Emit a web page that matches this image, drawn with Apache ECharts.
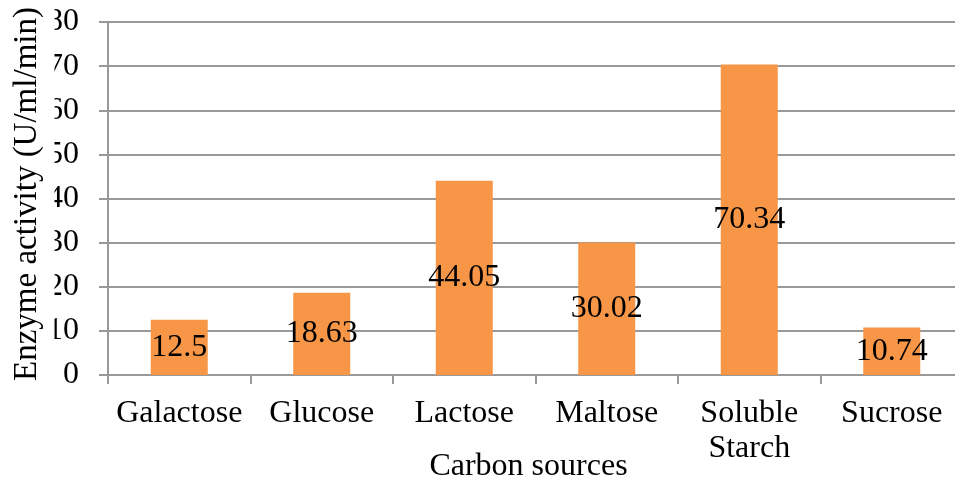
<!DOCTYPE html>
<html>
<head>
<meta charset="utf-8">
<script src="https://cdn.jsdelivr.net/npm/echarts@6/dist/echarts.min.js"></script>
<style>html,body{margin:0;padding:0;background:#fff}#c{width:955px;height:479px}</style>
</head>
<body>
<div id="c"></div>
<script>
const categories = ['Galactose', 'Glucose', 'Lactose', 'Maltose', 'Soluble\nStarch', 'Sucrose'];
const values = [12.5, 18.63, 44.05, 30.02, 70.34, 10.74];
const valueLabels = ['12.5', '18.63', '44.05', '30.02', '70.34', '10.74'];
const yTicks = [0, 10, 20, 30, 40, 50, 60, 70, 80];
const yTitle = 'Enzyme activity (U/ml/min)';
const xTitle = 'Carbon sources';

const FONT = "'Liberation Serif', 'Times New Roman', serif";
const chart = echarts.init(document.getElementById('c'), null, {renderer: 'canvas'});
chart.setOption({
  backgroundColor: '#ffffff',
  animation: false,
  grid: {left: 108, top: 22, bottom: 104, right: -8, containLabel: false, outerBoundsMode: 'none'},
  graphic: [{
    type: 'text',
    x: 27,
    y: 194,
    rotation: Math.PI / 2,
    z: 100,
    style: {
      text: yTitle,
      font: "33px 'Liberation Serif', 'Times New Roman', serif",
      fill: '#000',
      align: 'center',
      verticalAlign: 'middle',
      lineHeight: 36,
      backgroundColor: '#fff',
      padding: [0, 0, 19, 0]
    }
  }],
  xAxis: {
    type: 'category',
    data: categories,
    name: xTitle,
    nameLocation: 'middle',
    nameGap: 76,
    nameMoveOverlap: false,
    nameTextStyle: {fontFamily: FONT, fontSize: 32, color: '#000', padding: [0, 14, 0, 0]},
    axisLine: {lineStyle: {color: '#999', width: 2}},
    axisTick: {show: true, alignWithLabel: false, length: 9, lineStyle: {color: '#999', width: 2}},
    axisLabel: {fontFamily: FONT, fontSize: 32, color: '#000', margin: 21, lineHeight: 35, interval: 0}
  },
  yAxis: {
    type: 'value',
    min: yTicks[0],
    max: yTicks[yTicks.length - 1],
    interval: 10,
    axisLine: {show: true, lineStyle: {color: '#999', width: 2}},
    axisTick: {show: true, length: 9, lineStyle: {color: '#999', width: 2}},
    axisLabel: {fontFamily: FONT, fontSize: 32, color: '#000', margin: 29},
    splitLine: {show: true, lineStyle: {color: '#999', width: 2}}
  },
  series: [{
    type: 'bar',
    data: values,
    barWidth: '40%',
    itemStyle: {color: '#F79646'},
    label: {
      show: true,
      position: 'inside',
      fontFamily: FONT,
      fontSize: 32,
      color: '#000',
      formatter: p => valueLabels[p.dataIndex]
    }
  }]
});
</script>
</body>
</html>
